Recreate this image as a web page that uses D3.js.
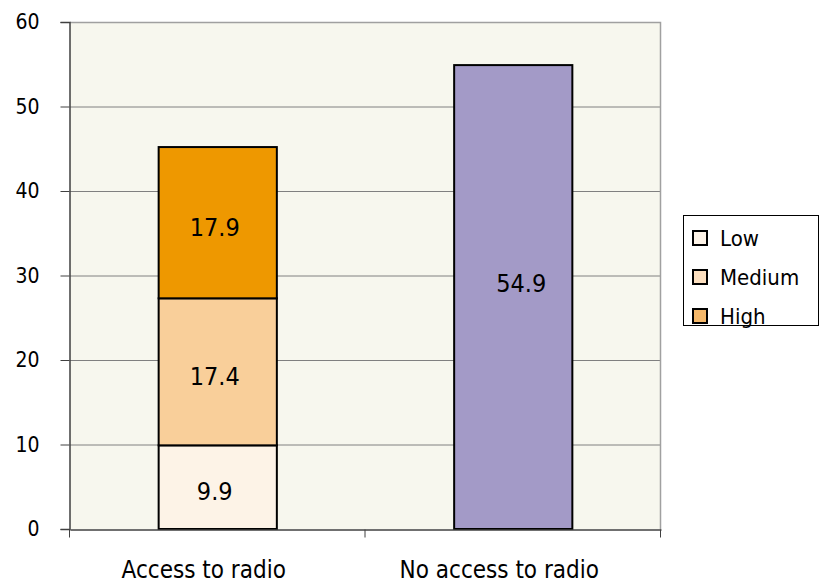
<!DOCTYPE html>
<html>
<head>
<meta charset="utf-8">
<script src="https://cdn.jsdelivr.net/npm/d3@7"></script>
<style>
  html, body { margin: 0; padding: 0; background: #ffffff; }
  svg text { font-family: "DejaVu Sans Condensed", "DejaVu Sans", sans-serif; fill: #000; }
</style>
</head>
<body>
<svg id="chart" width="821" height="582"></svg>
<script>
// Categories and stacked series
const categories = ["Access to radio", "No access to radio"];
const seriesNames = ["Low", "Medium", "High"];
const lowValues = [9.9, 0];
const mediumValues = [17.4, 0];
const highValues = [17.9, 0];
const noAccessValues = [0, 54.9];
const yTicks = [0, 10, 20, 30, 40, 50, 60];

const seriesColors = ["#FDF3E7", "#F9CF9A", "#EE9800"];
const legendColors = ["#FDF3E7", "#FCDFBF", "#F5B86A"];
const noAccessColor = "#A39AC7";
const FONT = "DejaVu Sans Condensed, DejaVu Sans, sans-serif";

const svg = d3.select("#chart");
const plot = { left: 70, top: 22, right: 661, bottom: 529 };

const x = d3.scaleBand().domain(categories).range([plot.left, plot.right]).paddingInner(0).paddingOuter(0);
const y = d3.scaleLinear().domain([0, 60]).range([plot.bottom, plot.top]);

// plot background
svg.append("rect")
  .attr("x", plot.left).attr("y", plot.top)
  .attr("width", plot.right - plot.left).attr("height", plot.bottom - plot.top)
  .attr("fill", "#F7F7EE");

// gridlines
svg.append("g").selectAll("line").data(yTicks.filter(d => d > 0 && d < 60)).join("line")
  .attr("x1", plot.left).attr("x2", plot.right)
  .attr("y1", d => y(d) + 0.5).attr("y2", d => y(d) + 0.5)
  .attr("stroke", "#808080").attr("stroke-width", 1);

// top and right border
svg.append("path")
  .attr("d", `M${plot.left},${plot.top + 0.5}H${plot.right - 0.5}V${plot.bottom}`)
  .attr("fill", "none").attr("stroke", "#A0A0A0").attr("stroke-width", 1.5);

// stacked bars for the first category
const rows = categories.map((c, i) => ({ cat: c, Low: lowValues[i], Medium: mediumValues[i], High: highValues[i] }));
const stack = d3.stack().keys(seriesNames)(rows);
const barW = x.bandwidth() * 0.4;
const barX = c => x(c) + (x.bandwidth() - barW) / 2;

stack.forEach((layer, li) => {
  const segs = layer.filter(d => d[1] - d[0] > 0);
  svg.append("g").selectAll("rect").data(segs).join("rect")
    .attr("x", d => barX(d.data.cat))
    .attr("y", d => y(d[1]))
    .attr("width", barW)
    .attr("height", d => y(d[0]) - y(d[1]))
    .attr("fill", seriesColors[li])
    .attr("stroke", "#000").attr("stroke-width", 2);
  svg.append("g").selectAll("text").data(segs).join("text")
    .attr("x", d => barX(d.data.cat) + barW / 2 - 3)
    .attr("y", d => y((d[0] + d[1]) / 2) + 4)
    .attr("dy", "0.36em")
    .attr("text-anchor", "middle")
    .attr("font-size", 25)
    .text(d => (d[1] - d[0]).toFixed(1));
});

// single bar for the second category
const noAccess = categories.map((c, i) => ({ cat: c, v: noAccessValues[i] })).filter(d => d.v > 0);
svg.append("g").selectAll("rect").data(noAccess).join("rect")
  .attr("x", d => barX(d.cat))
  .attr("y", d => y(d.v))
  .attr("width", barW)
  .attr("height", d => y(0) - y(d.v))
  .attr("fill", noAccessColor)
  .attr("stroke", "#000").attr("stroke-width", 2);
svg.append("g").selectAll("text").data(noAccess).join("text")
  .attr("x", d => barX(d.cat) + barW / 2 + 8)
  .attr("y", d => y(d.v / 2) - 14)
  .attr("dy", "0.36em")
  .attr("text-anchor", "middle")
  .attr("font-size", 25)
  .text(d => d.v.toFixed(1));

// y axis
const yAxis = svg.append("g").attr("transform", `translate(${plot.left - 0.5},0)`)
  .call(d3.axisLeft(y).tickValues(yTicks).tickSize(9).tickPadding(21).tickFormat(d3.format("d")));
yAxis.select(".domain").attr("stroke", "#404040").attr("stroke-width", 1.5);
yAxis.selectAll(".tick line").attr("stroke", "#404040");
yAxis.selectAll(".tick text").attr("font-size", 21).attr("font-family", FONT);

// x axis
const xAxis = svg.append("g").attr("transform", `translate(0,${plot.bottom + 0.5})`)
  .call(d3.axisBottom(x).tickSize(0).tickPadding(0));
xAxis.select(".domain").attr("stroke", "#404040").attr("stroke-width", 1.5);
xAxis.selectAll(".tick text").attr("font-size", 24).attr("font-family", FONT)
  .attr("dy", null).attr("y", 48).attr("x", -14);
// category boundary ticks
xAxis.append("g").selectAll("line")
  .data([plot.left, x(categories[1]), plot.right])
  .join("line")
  .attr("x1", d => d - 0.5).attr("x2", d => d - 0.5)
  .attr("y1", 0).attr("y2", 8)
  .attr("stroke", "#404040");

// legend
const lg = svg.append("g").attr("transform", "translate(683,215)");
lg.append("rect").attr("x", 0.5).attr("y", 0.5).attr("width", 135).attr("height", 110)
  .attr("fill", "#fff").attr("stroke", "#000").attr("stroke-width", 1);
seriesNames.forEach((name, i) => {
  const cy = 23 + i * 39;
  lg.append("rect").attr("x", 10).attr("y", cy - 7).attr("width", 14).attr("height", 14)
    .attr("fill", legendColors[i]).attr("stroke", "#000").attr("stroke-width", 2);
  lg.append("text").attr("x", 37).attr("y", cy).attr("dy", "0.36em")
    .attr("font-size", 22).text(name);
});
</script>
</body>
</html>
